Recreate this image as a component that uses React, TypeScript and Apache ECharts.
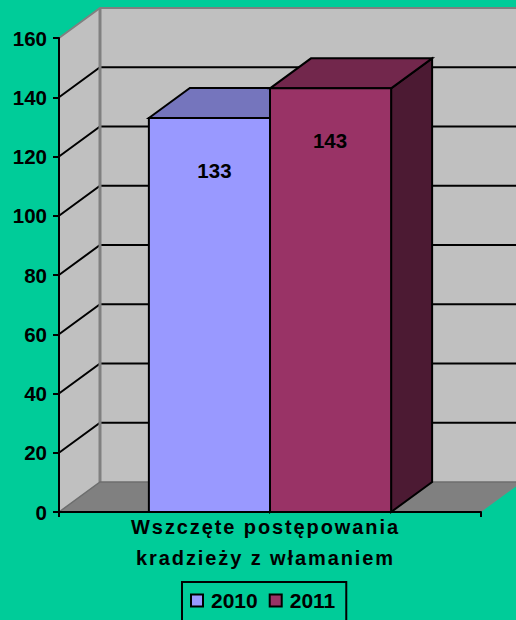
import React, { useEffect, useRef } from "react";
import * as echarts from "echarts";

const categories = ["Wszczęte postępowania\nkradzieży z włamaniem"];
const seriesNames = ["2010", "2011"];
const values2010 = [133];
const values2011 = [143];
const gridTicks = [0, 20, 40, 60, 80, 100, 120, 140, 160];

const DX = 41;
const DY = 30;
const BG = "#00CC99";
const WALL = "#C0C0C0";
const FLOOR = "#808080";
const LABEL_FONT = "Liberation Sans";
const BAR_FRACTION = 0.287;

const palettes = [
  { front: "#9999FF", top: "#7575BD", side: "#4C4C80" },
  { front: "#993366", top: "#72274C", side: "#4C1A33" },
];
const labelShift = [5, -0.5];

function poly(points: number[][], fill: string, stroke?: string, lineWidth = 2) {
  return {
    type: "polygon",
    shape: { points },
    style: { fill, stroke: stroke ?? "none", lineWidth },
  };
}

function renderWall(params: any, api: any) {
  const cs = params.coordSys;
  const left = cs.x;
  const right = cs.x + cs.width;
  const y = api.coord([0, api.value(0)])[1];
  const children: any[] = [];
  if (params.dataIndex === 0) {
    const top = cs.y;
    const bot = cs.y + cs.height;
    children.push(
      poly([[left + DX, top - DY], [right + DX, top - DY], [right + DX, bot - DY], [left + DX, bot - DY]], WALL),
      poly([[left, top], [left + DX, top - DY], [left + DX, bot - DY], [left, bot]], WALL),
      poly([[left, bot], [left + DX, bot - DY], [right + DX, bot - DY], [right, bot]], FLOOR),
    );
  }
  const v = api.value(0);
  if (v > 0 && v < 160) {
    children.push({
      type: "polyline",
      shape: { points: [[left, y], [left + DX, y - DY], [right + DX, y - DY]] },
      style: { fill: "none", stroke: "#000", lineWidth: 2 },
    });
  }
  if (v === 160) {
    const bot = cs.y + cs.height;
    children.push(
      {
        type: "polyline",
        shape: { points: [[left, y], [left + DX, y - DY], [right + DX, y - DY]] },
        style: { fill: "none", stroke: "#808080", lineWidth: 2 },
      },
      {
        type: "line",
        shape: { x1: left + DX, y1: y - DY, x2: left + DX, y2: bot - DY },
        style: { stroke: "#808080", lineWidth: 3 },
      },
      {
        type: "polyline",
        shape: { points: [[left, bot], [left + DX, bot - DY], [right + DX, bot - DY]] },
        style: { fill: "none", stroke: "#6E6E6E", lineWidth: 1.5 },
      },
    );
  }
  return { type: "group", children };
}

function makeBar(index: number) {
  return (params: any, api: any) => {
    const center = api.coord([api.value(0), 0])[0];
    const bw = api.size([1, 0])[0] * BAR_FRACTION;
    const x0 = center - bw + index * bw;
    const x1 = x0 + bw;
    const v = api.value(1);
    const yTop = api.coord([api.value(0), v])[1];
    const yBot = api.coord([api.value(0), 0])[1];
    const c = palettes[index];
    const st = "#000";
    return {
      type: "group",
      children: [
        poly([[x1, yTop], [x1 + DX, yTop - DY], [x1 + DX, yBot - DY], [x1, yBot]], c.side, st),
        poly([[x0, yTop], [x0 + DX, yTop - DY], [x1 + DX, yTop - DY], [x1, yTop]], c.top, st),
        poly([[x0, yTop], [x1, yTop], [x1, yBot], [x0, yBot]], c.front, st),
        {
          type: "text",
          style: {
            x: (x0 + x1) / 2 + labelShift[index],
            y: yTop + 52.5,
            text: String(v),
            fill: "#000",
            font: `bold 20.5px "${LABEL_FONT}"`,
            align: "center",
            verticalAlign: "middle",
          },
        },
      ],
    };
  };
}

export default function App() {
  const ref = useRef<HTMLDivElement>(null);
  useEffect(() => {
    document.body.style.margin = "0";
    document.body.style.background = BG;
    const chart = echarts.init(ref.current!, null, { renderer: "svg" });
    chart.setOption({
      animation: false,
      backgroundColor: BG,
      textStyle: { fontFamily: LABEL_FONT },
      grid: { left: 59, top: 38, width: 422, height: 474, containLabel: false },
      legend: {
        data: seriesNames,
        left: 182,
        top: 582,
        padding: [8, 11, 24, 8],
        itemWidth: 12,
        itemHeight: 12,
        itemGap: 11,
        borderColor: "#000",
        borderWidth: 2,
        icon: "rect",
        selectedMode: false,
        textStyle: { fontFamily: LABEL_FONT, fontWeight: "bold", fontSize: 21, color: "#000", padding: [0, 0, 0, 3] },
      },
      xAxis: {
        type: "category",
        data: categories,
        z: 10,
        axisLine: { lineStyle: { color: "#000", width: 2 } },
        axisTick: { show: true, length: 5, alignWithLabel: false, lineStyle: { color: "#000", width: 2 } },
        axisLabel: {
          interval: 0,
          margin: -1,
          fontFamily: LABEL_FONT,
          fontWeight: "bold",
          fontSize: 20,
          lineHeight: 31,
          color: "#000",
          padding: [0, 9, 0, 0],
        },
      },
      yAxis: {
        type: "value",
        min: 0,
        max: 160,
        interval: 20,
        z: 10,
        splitLine: { show: false },
        axisLine: { show: true, lineStyle: { color: "#000", width: 2 } },
        axisTick: { show: true, length: 6, lineStyle: { color: "#000", width: 2 } },
        axisLabel: {
          margin: 12,
          fontFamily: LABEL_FONT,
          fontWeight: "bold",
          fontSize: 20.5,
          color: "#000",
          padding: [0, 0, 2, 0],
        },
      },
      series: [
        {
          type: "custom",
          name: "wall",
          z: 1,
          silent: true,
          coordinateSystem: "cartesian2d",
          encode: { y: 0 },
          renderItem: renderWall,
          data: gridTicks.map((t) => [t]),
        },
        {
          type: "custom",
          name: seriesNames[0],
          z: 2,
          coordinateSystem: "cartesian2d",
          renderItem: makeBar(0),
          itemStyle: { color: palettes[0].front, borderColor: "#000", borderWidth: 2 },
          encode: { x: 0, y: 1 },
          data: values2010.map((v, i) => [i, v]),
        },
        {
          type: "custom",
          name: seriesNames[1],
          z: 3,
          coordinateSystem: "cartesian2d",
          renderItem: makeBar(1),
          itemStyle: { color: palettes[1].front, borderColor: "#000", borderWidth: 2 },
          encode: { x: 0, y: 1 },
          data: values2011.map((v, i) => [i, v]),
        },
      ],
    });
    ref.current!.querySelectorAll("text").forEach((t) => {
      if (/Wszcz|kradzie/.test(t.textContent || "")) {
        (t as SVGTextElement).style.letterSpacing = "1.9px";
      }
    });
    return () => chart.dispose();
  }, []);
  return <div ref={ref} style={{ width: 516, height: 620, position: "fixed", left: 0, top: 0 }} />;
}
